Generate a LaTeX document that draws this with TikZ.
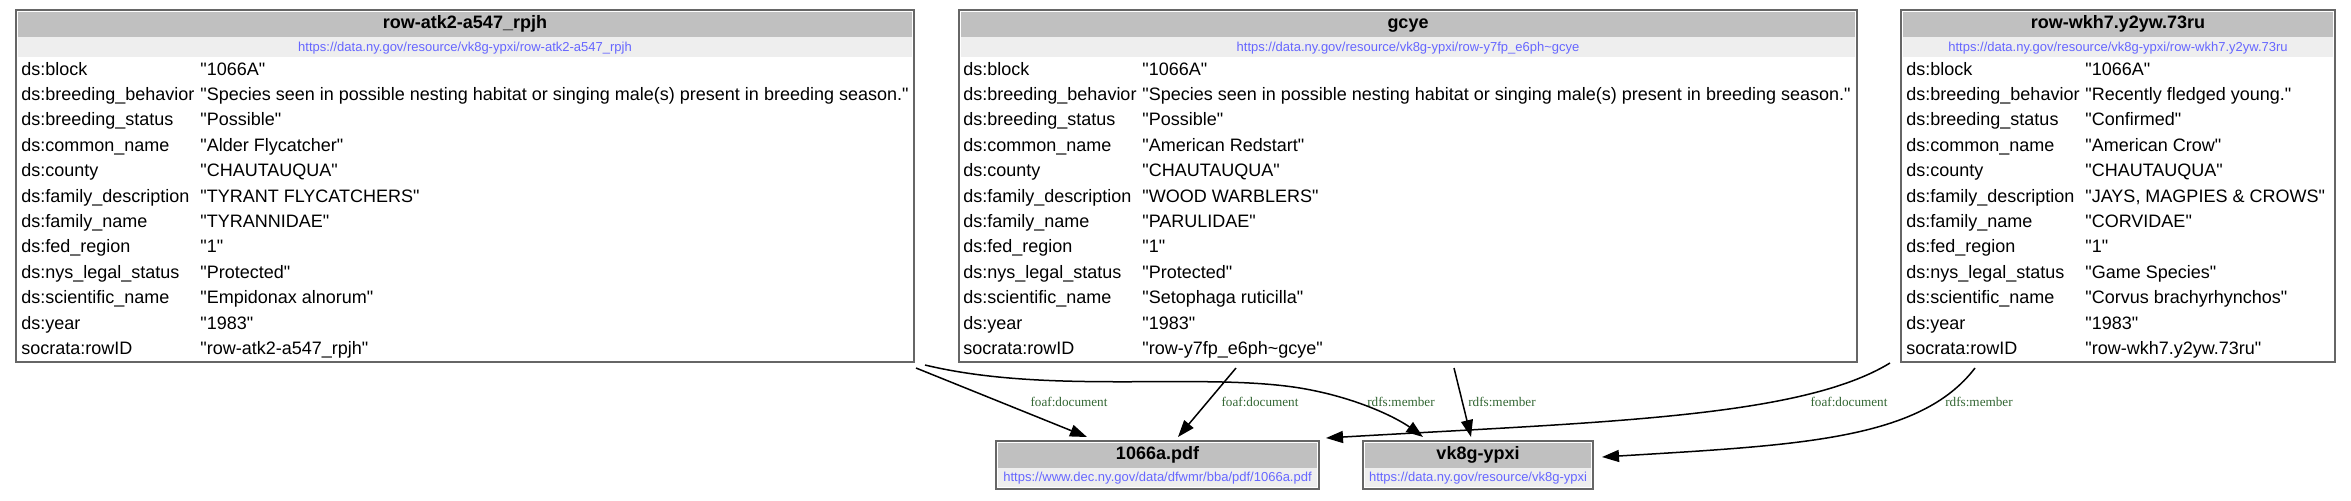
\documentclass[tikz,border=0pt]{standalone}
\usepackage{fontspec}
\setmainfont{Liberation Sans}[Ligatures=TeXOff]
\newfontfamily\lblfont{Liberation Serif}
\usetikzlibrary{arrows.meta,calc}
\definecolor{hdrgray}{HTML}{C0C0C0}
\definecolor{urlband}{HTML}{EEEEEE}
\definecolor{linkblue}{HTML}{6666FF}
\definecolor{lblgreen}{HTML}{336633}
\definecolor{bordergray}{HTML}{666666}
\newcommand{\kvrow}[6]{%
  \node[celltxt] (#1k#2) at (#3,{75+25.4*#2}) {#5};
  \node[celltxt] (#1v#2) at (#4,{75+25.4*#2}) {#6};}
\begin{document}
\begin{tikzpicture}[x=0.5pt,y=-0.5pt,
  recbox/.style={draw=bordergray, line width=0.6pt, anchor=north west, inner sep=0, outer sep=0},
  titletxt/.style={anchor=base, inner sep=0, font=\fontsize{9}{10}\selectfont\bfseries},
  urltxt/.style={anchor=base, inner sep=0, text=linkblue, font=\fontsize{6.5}{7}\selectfont},
  celltxt/.style={anchor=base west, inner sep=0, font=\fontsize{9}{10}\selectfont},
  edgelbl/.style={inner sep=0, text=lblgreen, font=\lblfont\fontsize{6.6}{7}\selectfont},
  edge/.style={line width=0.75pt, -{Triangle[length=8.5pt,width=6pt]}}]
\useasboundingbox (0,0) rectangle (2351,500);

% ---- record boxes ----
\node[recbox, minimum width=449pt, minimum height=176pt] (b1) at (16,10) {};
\node[recbox, minimum width=449pt, minimum height=176pt] (b2) at (959,10) {};
\node[recbox, minimum width=217pt, minimum height=176pt] (b3) at (1901,10) {};
\node[recbox, minimum width=161.5pt, minimum height=24pt] (pdf) at (996,441) {};
\node[recbox, minimum width=115pt, minimum height=24pt] (vk) at (1363,441) {};

% bands
\fill[hdrgray] (18,12) rectangle (912,37);
\fill[urlband] (18,37) rectangle (912,57);
\fill[hdrgray] (961,12) rectangle (1855,37);
\fill[urlband] (961,37) rectangle (1855,57);
\fill[hdrgray] (1903,12) rectangle (2333,37);
\fill[urlband] (1903,37) rectangle (2333,57);
\fill[hdrgray] (998,443) rectangle (1317,468);
\fill[urlband] (998,468) rectangle (1317,487);
\fill[hdrgray] (1365,443) rectangle (1591,468);
\fill[urlband] (1365,468) rectangle (1591,487);

% titles and urls
\node[titletxt] (b1t) at (465,28.5) {row-atk2-a547\_rpjh};
\node[urltxt] (b1u) at (465,51.5) {https://data.ny.gov/resource/vk8g-ypxi/row-atk2-a547\_rpjh};
\node[titletxt] (b2t) at (1408,28.5) {gcye};
\node[urltxt] (b2u) at (1408,51.5) {https://data.ny.gov/resource/vk8g-ypxi/row-y7fp\_e6ph\textasciitilde gcye};
\node[titletxt] (b3t) at (2118,28.5) {row-wkh7.y2yw.73ru};
\node[urltxt] (b3u) at (2118,51.5) {https://data.ny.gov/resource/vk8g-ypxi/row-wkh7.y2yw.73ru};
\node[titletxt] (pdft) at (1157.5,459) {1066a.pdf};
\node[urltxt] (pdfu) at (1157.5,481) {https://www.dec.ny.gov/data/dfwmr/bba/pdf/1066a.pdf};
\node[titletxt] (vkt) at (1478,459) {vk8g-ypxi};
\node[urltxt] (vku) at (1478,481) {https://data.ny.gov/resource/vk8g-ypxi};

% rows box 1
\kvrow{a}{0}{21}{200}{ds:block}{"1066A"}
\kvrow{a}{1}{21}{200}{ds:breeding\_behavior}{"Species seen in possible nesting habitat or singing male(s) present in breeding season."}
\kvrow{a}{2}{21}{200}{ds:breeding\_status}{"Possible"}
\kvrow{a}{3}{21}{200}{ds:common\_name}{"Alder Flycatcher"}
\kvrow{a}{4}{21}{200}{ds:county}{"CHAUTAUQUA"}
\kvrow{a}{5}{21}{200}{ds:family\_description}{"TYRANT FLYCATCHERS"}
\kvrow{a}{6}{21}{200}{ds:family\_name}{"TYRANNIDAE"}
\kvrow{a}{7}{21}{200}{ds:fed\_region}{"1"}
\kvrow{a}{8}{21}{200}{ds:nys\_legal\_status}{"Protected"}
\kvrow{a}{9}{21}{200}{ds:scientific\_name}{"Empidonax alnorum"}
\kvrow{a}{10}{21}{200}{ds:year}{"1983"}
\kvrow{a}{11}{21}{200}{socrata:rowID}{"row-atk2-a547\_rpjh"}

% rows box 2
\kvrow{g}{0}{963}{1142}{ds:block}{"1066A"}
\kvrow{g}{1}{963}{1142}{ds:breeding\_behavior}{"Species seen in possible nesting habitat or singing male(s) present in breeding season."}
\kvrow{g}{2}{963}{1142}{ds:breeding\_status}{"Possible"}
\kvrow{g}{3}{963}{1142}{ds:common\_name}{"American Redstart"}
\kvrow{g}{4}{963}{1142}{ds:county}{"CHAUTAUQUA"}
\kvrow{g}{5}{963}{1142}{ds:family\_description}{"WOOD WARBLERS"}
\kvrow{g}{6}{963}{1142}{ds:family\_name}{"PARULIDAE"}
\kvrow{g}{7}{963}{1142}{ds:fed\_region}{"1"}
\kvrow{g}{8}{963}{1142}{ds:nys\_legal\_status}{"Protected"}
\kvrow{g}{9}{963}{1142}{ds:scientific\_name}{"Setophaga ruticilla"}
\kvrow{g}{10}{963}{1142}{ds:year}{"1983"}
\kvrow{g}{11}{963}{1142}{socrata:rowID}{"row-y7fp\_e6ph\textasciitilde gcye"}

% rows box 3
\kvrow{w}{0}{1906}{2085}{ds:block}{"1066A"}
\kvrow{w}{1}{1906}{2085}{ds:breeding\_behavior}{"Recently fledged young."}
\kvrow{w}{2}{1906}{2085}{ds:breeding\_status}{"Confirmed"}
\kvrow{w}{3}{1906}{2085}{ds:common\_name}{"American Crow"}
\kvrow{w}{4}{1906}{2085}{ds:county}{"CHAUTAUQUA"}
\kvrow{w}{5}{1906}{2085}{ds:family\_description}{"JAYS, MAGPIES \& CROWS"}
\kvrow{w}{6}{1906}{2085}{ds:family\_name}{"CORVIDAE"}
\kvrow{w}{7}{1906}{2085}{ds:fed\_region}{"1"}
\kvrow{w}{8}{1906}{2085}{ds:nys\_legal\_status}{"Game Species"}
\kvrow{w}{9}{1906}{2085}{ds:scientific\_name}{"Corvus brachyrhynchos"}
\kvrow{w}{10}{1906}{2085}{ds:year}{"1983"}
\kvrow{w}{11}{1906}{2085}{socrata:rowID}{"row-wkh7.y2yw.73ru"}

% ---- edges ----
\draw[edge] ($(b1.south east)+(2,6)$) -- ($(pdf.north west)+(91,-4)$);
\draw[edge] ($(b1.south east)+(11,3)$) .. controls (1050,395) and (1200,372) .. (1300,388)
  .. controls (1360,398) and (1400,420) .. ($(vk.north west)+(60,-4)$);
\draw[edge] ($(b2.south west)+(277,6)$) -- ($(pdf.north west)+(182,-4)$);
\draw[edge] ($(b2.south west)+(495,6)$) -- ($(vk.north west)+(108,-4)$);
\draw[edge] ($(b3.south west)+(-11,1)$) .. controls (1800,418) and (1600,422) .. ($(pdf.north east)+(7,-3)$);
\draw[edge] ($(b3.south west)+(74,6)$) .. controls (1920,440) and (1800,445) .. ($(vk.east)+(9,-8)$);

% edge labels
\node[edgelbl] (l1) at (1069,402) {foaf:document};
\node[edgelbl] (l2) at (1401,402) {rdfs:member};
\node[edgelbl] (l3) at (1260,402) {foaf:document};
\node[edgelbl] (l4) at (1502,402) {rdfs:member};
\node[edgelbl] (l5) at (1849,402) {foaf:document};
\node[edgelbl] (l6) at (1979,402) {rdfs:member};
\end{tikzpicture}
\end{document}
